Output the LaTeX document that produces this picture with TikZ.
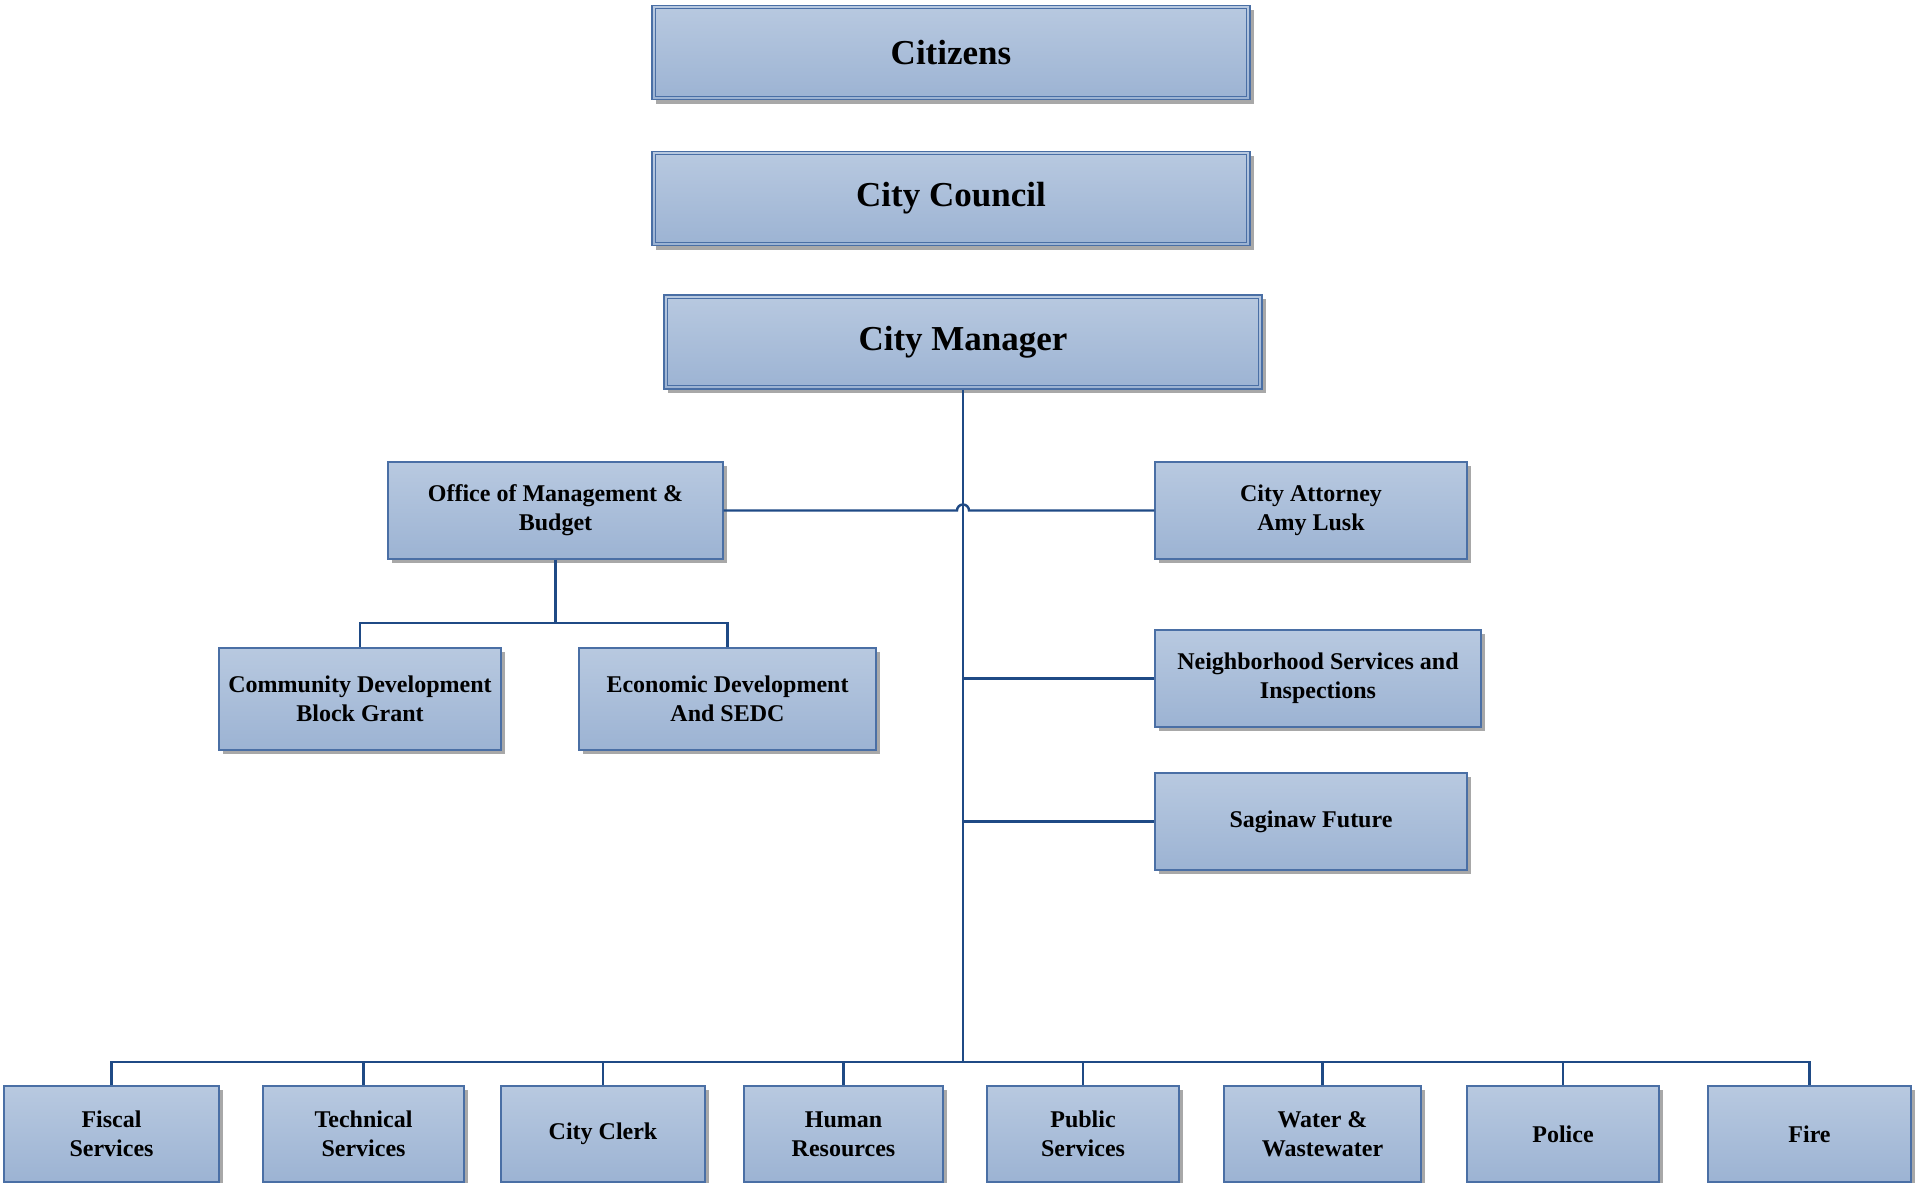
\documentclass[tikz,border=0pt]{standalone}
\usepackage{fontspec}
\setmainfont{Liberation Serif}
\usetikzlibrary{shadows}

\definecolor{boxtop}{HTML}{B8C9E0}
\definecolor{boxbot}{HTML}{9CB3D3}
\definecolor{boxline}{HTML}{4A6FA5}
\definecolor{linkline}{HTML}{1F4A85}
\definecolor{shadowgray}{HTML}{A8A8A8}

\tikzset{
  unitbox/.style={draw=boxline, line width=0.6pt, top color=boxtop, bottom color=boxbot,
    drop shadow={shadow xshift=2pt, shadow yshift=-2pt, fill=shadowgray, opacity=1},
    align=center, inner sep=1pt, font=\fontsize{12pt}{14.6pt}\selectfont\bfseries},
  topbox/.style={unitbox, line width=0.8pt, minimum width=299pt, minimum height=47pt,
    font=\fontsize{17.5pt}{20pt}\selectfont\bfseries},
  link/.style={draw=linkline, line width=1.2pt}
}

\begin{document}
\begin{tikzpicture}[x=0.5pt,y=-0.5pt]
\useasboundingbox (0,0) rectangle (1918,1183);
% top of the chart
\node[topbox] (cit) at (951,52.5) {Citizens};
\node[topbox] (cc) at (951,198.5) {City Council};
\node[topbox] (cm) at (963,342) {City Manager};
\foreach \n in {cit,cc,cm}
  \draw[boxline, line width=0.5pt] ([shift={(2pt,-2pt)}]\n.north west) rectangle ([shift={(-2pt,2pt)}]\n.south east);
% offices under the manager
\node[unitbox, minimum width=167.5pt, minimum height=48.5pt] (omb) at (555.5,510.5) {Office of Management \&\\Budget};
\node[unitbox, minimum width=156pt, minimum height=48.5pt] (att) at (1311,510.5) {City Attorney\\Amy Lusk};
\node[unitbox, minimum width=141pt, minimum height=51pt] (cdbg) at (360,699) {Community Development\\Block Grant};
\node[unitbox, minimum width=148.5pt, minimum height=51pt] (eco) at (727.5,699) {Economic Development\\And SEDC};
\node[unitbox, minimum width=163pt, minimum height=48.5pt] (nbh) at (1318,678.5) {Neighborhood Services and\\Inspections};
\node[unitbox, minimum width=156pt, minimum height=48.5pt] (sag) at (1311,821.5) {Saginaw Future};
% departments
\node[unitbox, minimum width=107.5pt, minimum height=48pt] (fis) at (111.5,1134) {Fiscal\\Services};
\node[unitbox, minimum width=100.5pt, minimum height=48pt] (tec) at (363.5,1134) {Technical\\Services};
\node[unitbox, minimum width=102pt, minimum height=48pt] (clk) at (603,1134) {City Clerk};
\node[unitbox, minimum width=99.5pt, minimum height=48pt] (hr) at (843.5,1134) {Human\\Resources};
\node[unitbox, minimum width=96pt, minimum height=48pt] (pub) at (1083,1134) {Public\\Services};
\node[unitbox, minimum width=98.5pt, minimum height=48pt] (wat) at (1322.5,1134) {Water \&\\Wastewater};
\node[unitbox, minimum width=96pt, minimum height=48pt] (pol) at (1563,1134) {Police};
\node[unitbox, minimum width=101.5pt, minimum height=48pt] (fire) at (1809.5,1134) {Fire};
% connectors
\coordinate (bus) at (963,1062);
\coordinate (ombbar) at (555.5,623);
\draw[link] (cm.south) -- (bus);
\foreach \n in {fis,tec,clk,hr,pub,wat,pol,fire}
  \draw[link] (bus) -| (\n.north);
\draw[link] (omb.east) -- ([xshift=-3pt]cm.south |- omb.east) arc[start angle=180, end angle=0, radius=3pt] -- (att.west);
\draw[link] (cm.south |- nbh.west) -- (nbh.west);
\draw[link] (cm.south |- sag.west) -- (sag.west);
\draw[link] (omb.south) -- (ombbar) -| (cdbg.north);
\draw[link] (ombbar) -| (eco.north);
\end{tikzpicture}
\end{document}
